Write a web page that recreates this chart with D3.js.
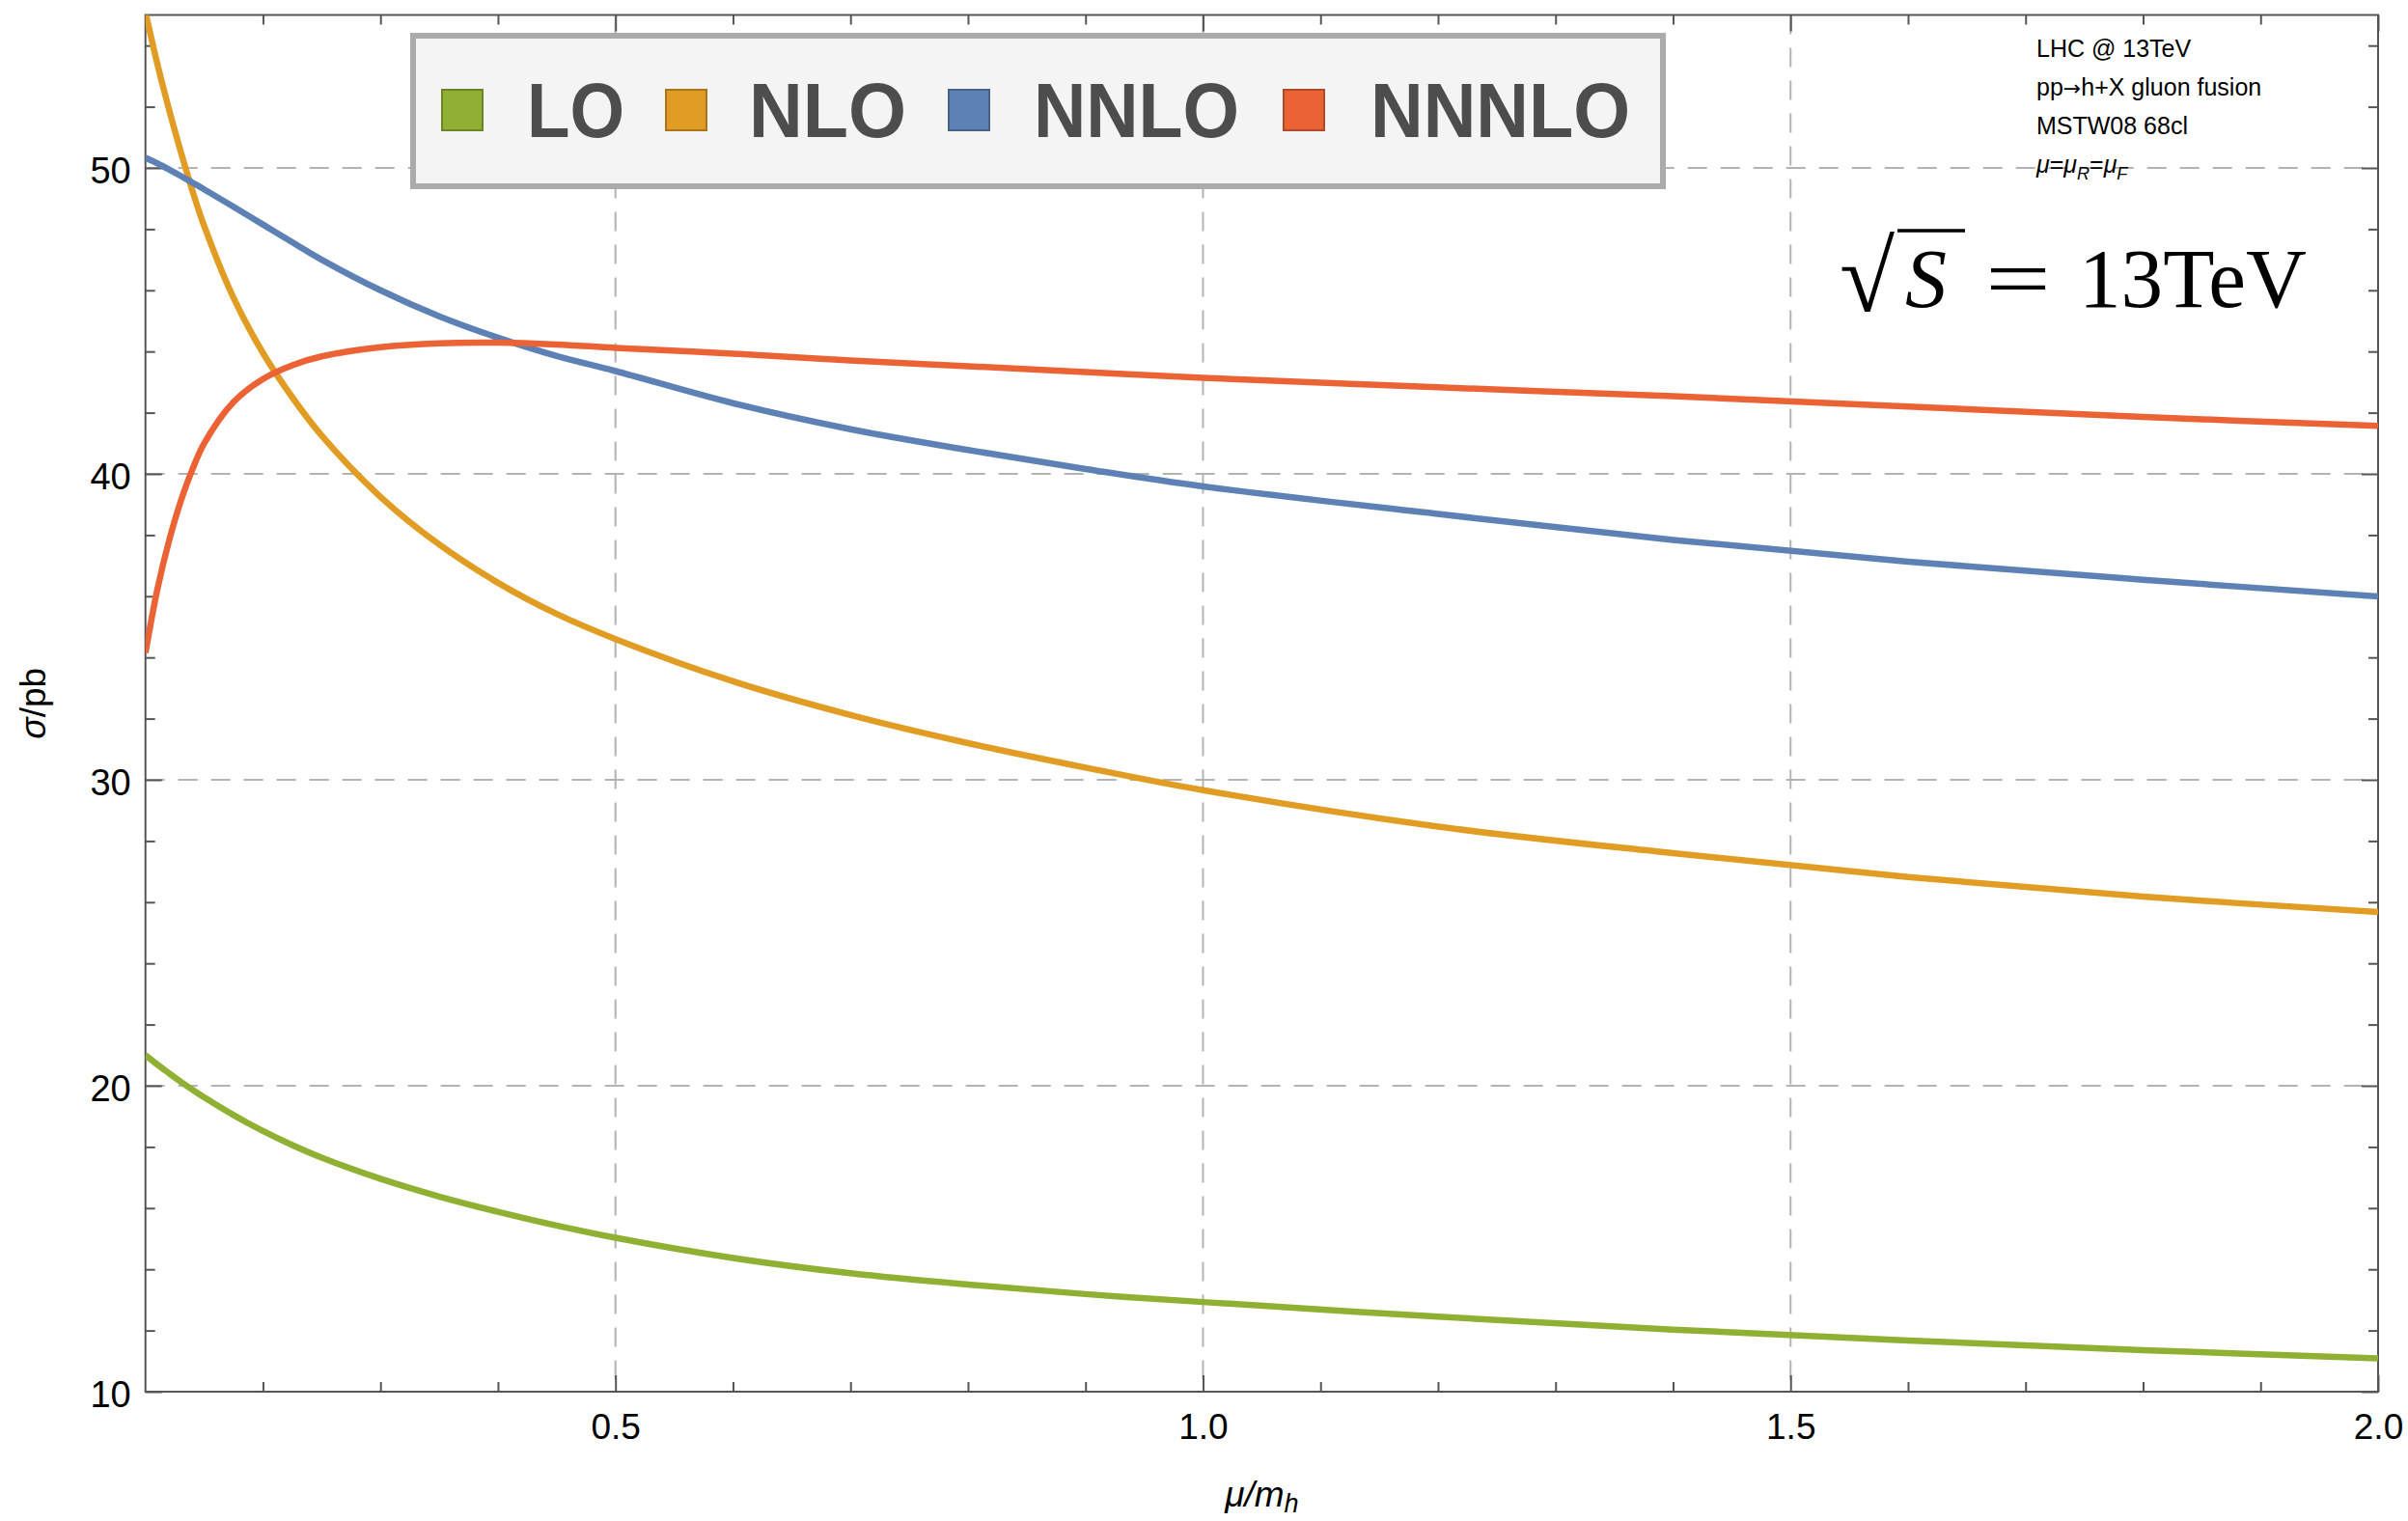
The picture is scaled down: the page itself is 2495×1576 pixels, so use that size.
<html>
<head>
<meta charset="utf-8">
<script src="https://d3js.org/d3.v7.min.js"></script>
<style>
  body { margin: 0; background: white; }
</style>
</head>
<body>
<svg id="chart" width="2495" height="1576" font-family="Liberation Sans, Arial, sans-serif"></svg>
<script>
// scale mu/m_h
var mu    = [0.1, 0.11, 0.12, 0.13, 0.14, 0.15, 0.175, 0.2, 0.225, 0.25, 0.3, 0.35, 0.4, 0.45, 0.5, 0.6, 0.7, 0.8, 0.9, 1.0, 1.2, 1.4, 1.6, 1.8, 2.0];
// sigma in pb
var lo    = [21.0, 20.7, 20.41, 20.13, 19.87, 19.62, 19.04, 18.52, 18.06, 17.65, 16.96, 16.38, 15.88, 15.43, 15.03, 14.37, 13.87, 13.5, 13.19, 12.93, 12.45, 12.03, 11.67, 11.36, 11.09];
var nlo   = [55.1, 53.42, 51.92, 50.54, 49.25, 48.1, 45.75, 43.95, 42.5, 41.25, 39.25, 37.69, 36.44, 35.42, 34.6, 33.22, 32.12, 31.2, 30.4, 29.66, 28.47, 27.6, 26.82, 26.18, 25.68];
var nnlo  = [50.33, 50.15, 49.95, 49.74, 49.52, 49.3, 48.73, 48.15, 47.57, 47.0, 46.0, 45.15, 44.45, 43.85, 43.36, 42.31, 41.46, 40.78, 40.16, 39.59, 38.69, 37.84, 37.13, 36.54, 35.99];
var nnnlo = [34.15, 36.2, 37.8, 39.1, 40.15, 41.0, 42.35, 43.1, 43.55, 43.84, 44.14, 44.27, 44.29, 44.23, 44.12, 43.93, 43.71, 43.52, 43.33, 43.14, 42.83, 42.54, 42.2, 41.86, 41.57];

var seriesNames  = ["LO", "NLO", "NNLO", "NNNLO"];
var seriesColors = ["#8fb032", "#e19c24", "#5e81b5", "#eb6235"];
var seriesValues = [lo, nlo, nnlo, nnnlo];

var xMajor = [0.5, 1.0, 1.5, 2.0];
var xMinor = [0.2, 0.3, 0.4, 0.6, 0.7, 0.8, 0.9, 1.1, 1.2, 1.3, 1.4, 1.6, 1.7, 1.8, 1.9];
var yMajor = [10, 20, 30, 40, 50];
var yMinor = [12, 14, 16, 18, 22, 24, 26, 28, 32, 34, 36, 38, 42, 44, 46, 48, 52, 54];
var xGrid = [0.5, 1.0, 1.5];
var yGrid = [20, 30, 40, 50];

var notes = ["LHC @ 13TeV", "pp\u2192h+X gluon fusion", "MSTW08 68cl"];

var svg = d3.select("#chart");
var plotL = 150.7, plotR = 2464, plotT = 15.5, plotB = 1442;

var x = d3.scaleLinear().domain([0.1, 2.0]).range([plotL, plotR]);
var y = d3.scaleLinear().domain([10, 55]).range([plotB, plotT]);

svg.append("rect").attr("width", 2495).attr("height", 1576).attr("fill", "white");

// grid
var grid = svg.append("g").attr("stroke", "#b3b3b3").attr("stroke-width", 2).attr("stroke-dasharray", "20,14");
grid.selectAll(".gx").data(xGrid).enter().append("line")
  .attr("x1", d => x(d)).attr("x2", d => x(d)).attr("y1", plotT).attr("y2", plotB);
grid.selectAll(".gy").data(yGrid).enter().append("line")
  .attr("x1", plotL).attr("x2", plotR).attr("y1", d => y(d)).attr("y2", d => y(d));

// axes, ticks pointing inward on all four sides
function tickAxis(axis, tr, vals, len, labels, pad) {
  var a = axis.tickValues(vals).tickSizeInner(-len).tickSizeOuter(0);
  if (labels) a.tickFormat(d3.format(labels)).tickPadding(pad); else a.tickFormat("");
  var g = svg.append("g").attr("transform", tr).call(a);
  g.select(".domain").remove();
  g.selectAll("line").attr("stroke", "#555").attr("stroke-width", 2);
  g.attr("font-family", null).attr("font-size", null);
  return g;
}
tickAxis(d3.axisBottom(x), "translate(0," + plotB + ")", xMinor, 10);
var xl = tickAxis(d3.axisBottom(x), "translate(0," + plotB + ")", xMajor, 17, ".1f", 23);
tickAxis(d3.axisTop(x), "translate(0," + plotT + ")", xMinor, 10);
tickAxis(d3.axisTop(x), "translate(0," + plotT + ")", xMajor, 17);
tickAxis(d3.axisLeft(y), "translate(" + plotL + ",0)", yMinor, 10);
var yl = tickAxis(d3.axisLeft(y), "translate(" + plotL + ",0)", yMajor, 17, "d", 15);
tickAxis(d3.axisRight(y), "translate(" + plotR + ",0)", yMinor, 10);
tickAxis(d3.axisRight(y), "translate(" + plotR + ",0)", yMajor, 17);
xl.selectAll("text").attr("font-size", 37).attr("fill", "black");
yl.selectAll("text").attr("font-size", 38).attr("fill", "black").attr("dy", "0.4em");

// frame
svg.append("rect").attr("x", plotL).attr("y", plotT).attr("width", plotR - plotL).attr("height", plotB - plotT)
  .attr("fill", "none").attr("stroke", "#555").attr("stroke-width", 2);

// curves
svg.append("clipPath").attr("id", "plotclip").append("rect")
  .attr("x", plotL).attr("y", plotT).attr("width", plotR - plotL).attr("height", plotB - plotT);
var line = d3.line().x(d => x(d[0])).y(d => y(d[1])).curve(d3.curveCatmullRom.alpha(0.5));
var curves = svg.append("g").attr("clip-path", "url(#plotclip)");
seriesValues.forEach(function(vals, i) {
  curves.append("path").datum(mu.map((m, j) => [m, vals[j]]))
    .attr("d", line).attr("fill", "none").attr("stroke", seriesColors[i]).attr("stroke-width", 6.5)
    .attr("stroke-linejoin", "round");
});

// legend
svg.append("rect").attr("x", 428).attr("y", 37).attr("width", 1295).attr("height", 156)
  .attr("fill", "#f4f4f4").attr("stroke", "#ababab").attr("stroke-width", 6);
var swatchX = [458, 690, 983, 1330];
var labelX  = [546, 776, 1071, 1420];
var labelW  = [101, 163, 213, 269];
seriesNames.forEach(function(n, i) {
  svg.append("rect").attr("x", swatchX[i]).attr("y", 93).attr("width", 42).attr("height", 42)
    .attr("fill", seriesColors[i]).attr("stroke", d3.color(seriesColors[i]).darker(0.8)).attr("stroke-width", 2);
  svg.append("text").attr("x", labelX[i]).attr("y", 141.5).attr("font-size", 79).attr("font-weight", "bold")
    .attr("fill", "#4d4d4d").attr("textLength", labelW[i]).attr("lengthAdjust", "spacingAndGlyphs").text(n);
});

// notes top right
notes.forEach(function(t, i) {
  var nt = svg.append("text").attr("x", 2110).attr("y", 59 + 40 * i).attr("font-size", 25).attr("fill", "black");
  t.split("\u2192").forEach(function(part, k) {
    if (k > 0) nt.append("tspan").attr("font-family", "DejaVu Sans").attr("font-size", 22).text("\u2192");
    nt.append("tspan").text(part);
  });
});
var sc = svg.append("text").attr("x", 2110).attr("y", 179).attr("font-size", 25).attr("fill", "black");
sc.append("tspan").attr("font-style", "italic").text("\u03bc");
sc.append("tspan").text("=");
sc.append("tspan").attr("font-style", "italic").text("\u03bc");
sc.append("tspan").attr("font-style", "italic").attr("font-size", 18).attr("dy", 7).text("R");
sc.append("tspan").attr("dy", -7).text("=");
sc.append("tspan").attr("font-style", "italic").text("\u03bc");
sc.append("tspan").attr("font-style", "italic").attr("font-size", 18).attr("dy", 7).text("F");

// sqrt(S) = 13TeV
var serif = "Liberation Serif, Times New Roman, serif";
svg.append("text").attr("x", 1906).attr("y", 322).attr("font-size", 104).attr("font-family", serif).text("\u221a");
svg.append("line").attr("x1", 1966).attr("x2", 2036).attr("y1", 239).attr("y2", 239)
  .attr("stroke", "black").attr("stroke-width", 3.5);
svg.append("text").attr("x", 1974).attr("y", 318).attr("font-size", 86).attr("font-family", serif)
  .attr("font-style", "italic").text("S");
svg.append("text").attr("x", 2057).attr("y", 318).attr("font-size", 86).attr("font-family", serif)
  .attr("textLength", 68).attr("lengthAdjust", "spacingAndGlyphs").text("=");
svg.append("text").attr("x", 2154).attr("y", 318).attr("font-size", 86).attr("font-family", serif)
  .attr("textLength", 236).attr("lengthAdjust", "spacingAndGlyphs").text("13TeV");

// axis titles
var xt = svg.append("text").attr("x", (plotL + plotR) / 2).attr("y", 1561).attr("text-anchor", "middle")
  .attr("font-size", 37).attr("font-style", "italic").attr("fill", "black");
xt.append("tspan").text("\u03bc/m");
xt.append("tspan").attr("font-size", 27).attr("dy", 6).text("h");
var yt = svg.append("text").attr("transform", "translate(47," + (plotT + plotB) / 2 + ") rotate(-90)")
  .attr("text-anchor", "middle").attr("font-size", 37).attr("fill", "black");
yt.append("tspan").attr("font-style", "italic").text("\u03c3");
yt.append("tspan").text("/pb");
</script>
</body>
</html>
